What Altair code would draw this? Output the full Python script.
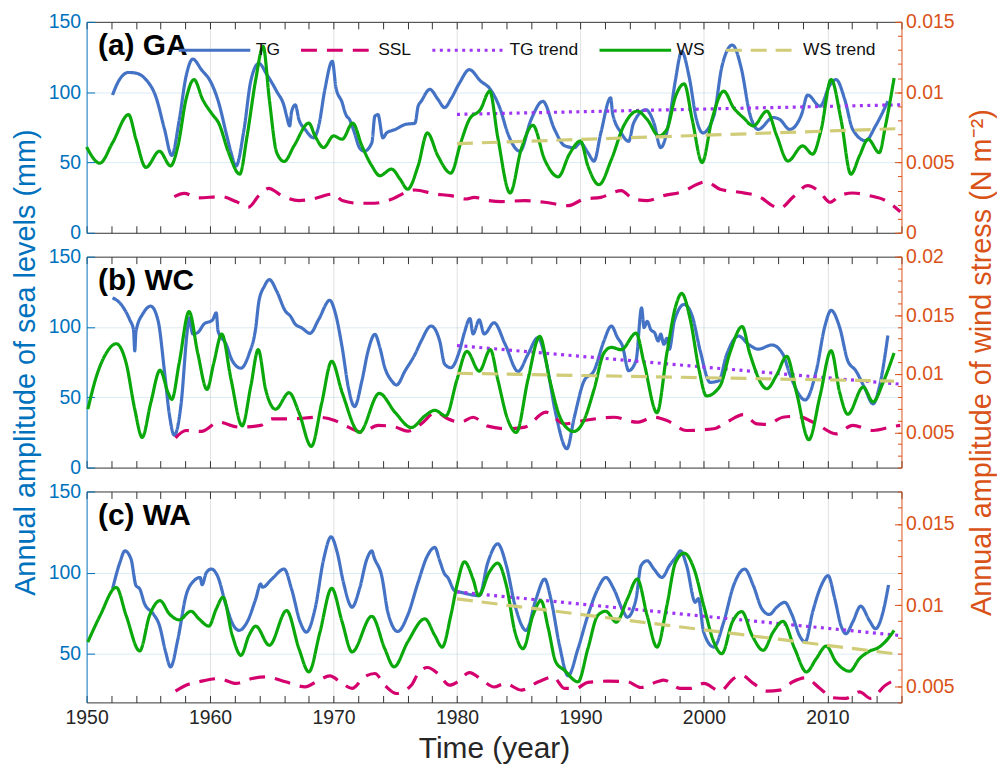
import altair as alt
import pandas as pd

FONT = "Liberation Sans"
SERIES = ["TG", "SSL", "TG trend", "WS", "WS trend"]
COLORS = ["#4472C4", "#D4006E", "#9F35F2", "#0AA80A", "#D0CC78"]
DASHES = [[1, 0], [16, 10], [3, 4.5], [1, 0], [16, 9]]
LEFT_COLOR = "#0072BD"
RIGHT_COLOR = "#D95319"
BOX_COLOR = "#333333"
TEXT_COLOR = "#262626"

YEAR_DOMAIN = [1950, 2016]
X_TICKS = list(range(1950, 2017, 2))
DECADES = [1960, 1970, 1980, 1990, 2000, 2010]

# ---------------- panel (a) GA ----------------
A_TG = [(1952.1, 98), (1952.6, 108), (1953.4, 114), (1954.0, 113.5), (1954.8, 109), (1955.6, 97),
        (1956.3, 74), (1956.9, 55), (1957.5, 80), (1958.05, 111), (1958.6, 123.5), (1959.3, 116),
        (1960.1, 106.5), (1960.7, 92.5), (1961.3, 71), (1961.7, 57), (1962.1, 47.5), (1962.75, 73.5),
        (1963.3, 108), (1963.95, 120.5), (1964.6, 112.5), (1965.4, 100.5), (1966.0, 90), (1966.2, 83),
        (1966.45, 76), (1966.6, 86), (1966.9, 91), (1967.2, 80.5), (1967.7, 73.5), (1968.4, 67.5),
        (1968.8, 76), (1969.3, 102), (1969.9, 122), (1970.2, 103), (1970.7, 92.5), (1970.9, 86.5),
        (1971.0, 84), (1971.3, 80.5), (1971.7, 71), (1972.1, 60.5), (1972.5, 58), (1973.1, 64),
        (1973.35, 83), (1973.6, 84), (1974.0, 67.5), (1974.3, 71), (1975.0, 73.5), (1975.8, 77),
        (1976.6, 78), (1976.85, 90), (1977.1, 93.5), (1977.8, 102), (1978.45, 95), (1979.0, 89),
        (1979.5, 95), (1980.2, 106.5), (1981.0, 116), (1981.9, 108), (1982.7, 102), (1983.5, 88),
        (1984.1, 71), (1985.1, 58), (1986.0, 80.5), (1986.95, 93.5), (1987.9, 73.5), (1988.7, 62),
        (1989.5, 60.5), (1990.0, 64), (1990.6, 57), (1991.1, 51), (1991.65, 71), (1992.45, 96),
        (1992.6, 85), (1993.3, 71), (1993.9, 65), (1994.3, 78), (1995.3, 87.5), (1995.95, 78),
        (1996.5, 60.5), (1997.2, 80.5), (1997.7, 109), (1998.2, 129), (1998.8, 111), (1999.4, 80.5),
        (1999.9, 71), (2000.8, 83), (2001.45, 118), (2002.3, 133.5), (2003.05, 116), (2003.7, 85),
        (2004.4, 73.5), (2005.6, 82), (2006.15, 80.5), (2006.95, 73.5), (2007.9, 84), (2008.4, 98),
        (2009.4, 90), (2010.2, 105), (2010.7, 109), (2011.4, 95), (2012.05, 73.5), (2013.1, 65.5),
        (2013.9, 76), (2014.9, 93.5)]
A_SSL = [(1957.1, 25.7), (1957.9, 28), (1959.1, 24.8), (1960.9, 25.7), (1962.1, 22.2), (1963.1, 18.2),
         (1963.95, 26.4), (1964.75, 31.6), (1965.8, 26.4), (1967.2, 22.9), (1968.25, 24), (1970.0, 27.6),
         (1970.7, 22.9), (1972.0, 21), (1973.35, 21), (1974.4, 22.9), (1976.6, 30.4), (1978.2, 27.6),
         (1979.5, 26.4), (1980.7, 24), (1981.4, 25.2), (1982.6, 22.9), (1983.6, 22.2), (1985.5, 22.9),
         (1987.1, 21.7), (1989.0, 19.3), (1990.3, 24), (1991.65, 25.2), (1993.3, 30), (1994.3, 24),
         (1995.4, 22.9), (1996.75, 26.4), (1998.1, 28.8), (2000.2, 36.3), (2001.3, 31), (2002.9, 28.8),
         (2004.3, 26.4), (2006.15, 17.4), (2007.2, 25.2), (2008.4, 33.5), (2009.4, 28.8), (2010.2, 21.7),
         (2011.0, 26.4), (2012.05, 28.3), (2013.4, 26.4), (2014.7, 22.9), (2015.9, 15)]
A_TG_TREND = [(1980, 84.2), (2015.9, 91)]
A_WS = [(1950.0, 0.0061), (1951.07, 0.00495), (1952.1, 0.0064), (1953.4, 0.0084), (1954.0, 0.00665),
        (1954.8, 0.00465), (1955.9, 0.0058), (1956.8, 0.00476), (1957.4, 0.00618), (1958.05, 0.00948),
        (1958.7, 0.0109), (1959.4, 0.00948), (1960.2, 0.0084), (1960.7, 0.0078), (1961.5, 0.0057),
        (1962.4, 0.00417), (1963.0, 0.00689), (1963.7, 0.0109), (1964.3, 0.01325), (1964.8, 0.00948),
        (1965.4, 0.0057), (1966.0, 0.00507), (1966.8, 0.00618), (1968.0, 0.0078), (1968.5, 0.00689),
        (1969.2, 0.00606), (1970.0, 0.00689), (1970.7, 0.00665), (1971.55, 0.0078), (1972.3, 0.00618),
        (1973.1, 0.00476), (1973.75, 0.00406), (1974.7, 0.00453), (1975.4, 0.0038), (1976.0, 0.0031),
        (1976.85, 0.00476), (1977.6, 0.0071), (1978.45, 0.00547), (1979.5, 0.00424), (1980.3, 0.0064),
        (1981.0, 0.00806), (1981.9, 0.00877), (1982.65, 0.01007), (1983.3, 0.0068), (1984.3, 0.00283),
        (1985.2, 0.00594), (1986.15, 0.00764), (1987.1, 0.0052), (1988.2, 0.00398), (1989.1, 0.00559),
        (1990.0, 0.00653), (1990.6, 0.00476), (1991.5, 0.00342), (1992.5, 0.0052), (1993.5, 0.0076),
        (1994.6, 0.00865), (1995.4, 0.00806), (1996.35, 0.00689), (1997.0, 0.00736), (1997.7, 0.0097),
        (1998.4, 0.01059), (1999.05, 0.00806), (1999.85, 0.005), (2000.65, 0.00806), (2001.6, 0.01007),
        (2002.4, 0.00889), (2003.2, 0.00818), (2004.0, 0.0076), (2005.1, 0.00865), (2005.9, 0.00689),
        (2006.8, 0.0051), (2008.0, 0.00618), (2008.8, 0.00559), (2009.5, 0.00736), (2010.3, 0.0109),
        (2011.1, 0.00806), (2011.9, 0.00417), (2012.6, 0.00547), (2013.3, 0.00665), (2014.2, 0.0057),
        (2014.7, 0.0076), (2015.4, 0.011)]
A_WS_TREND = [(1980, 0.00634), (2015.5, 0.0074)]

# ---------------- panel (b) WC ----------------
B_TG = [(1952.1, 120.7), (1952.7, 117), (1953.5, 105), (1953.8, 98), (1953.9, 83), (1954.0, 97),
        (1954.6, 110), (1955.2, 114.8), (1955.8, 104), (1956.3, 69), (1956.7, 38), (1957.1, 23),
        (1957.65, 45), (1958.15, 97), (1958.3, 106.5), (1958.6, 95), (1959.0, 96), (1959.5, 102),
        (1960.2, 105), (1960.5, 110), (1960.65, 97), (1961.3, 87.7), (1961.8, 76), (1962.5, 70.7),
        (1963.15, 80.6), (1963.7, 99.5), (1963.95, 118), (1964.4, 129), (1964.8, 133.7), (1965.4, 125.4),
        (1966.1, 111.3), (1966.5, 107.8), (1966.9, 102), (1967.4, 99.5), (1968.1, 95.5), (1968.8, 105.4),
        (1969.7, 119), (1970.1, 111.3), (1970.7, 85.4), (1971.2, 57), (1971.7, 43.4), (1972.3, 61.8),
        (1972.8, 83), (1973.35, 94.8), (1973.75, 85.4), (1974.15, 71.2), (1974.7, 61.8), (1975.1, 58.7),
        (1975.8, 68.9), (1976.6, 80.6), (1977.1, 90), (1977.9, 100.7), (1978.6, 90), (1979.0, 73.6),
        (1979.5, 71), (1980.2, 83), (1980.6, 96), (1981.05, 106), (1981.3, 95), (1981.8, 105),
        (1982.2, 95), (1983.0, 103), (1983.9, 87.7), (1984.95, 68.4), (1985.75, 80.6), (1986.55, 92.4),
        (1987.2, 76), (1988.0, 38.2), (1988.9, 13.4), (1989.5, 35.8), (1990.3, 61.8), (1991.1, 68.9),
        (1991.9, 90), (1992.5, 100.7), (1993.0, 92.4), (1993.4, 86.5), (1993.9, 68.9), (1994.5, 76),
        (1994.95, 113.6), (1995.15, 99.5), (1995.4, 104), (1995.7, 98), (1996.0, 96), (1996.3, 90),
        (1996.5, 95), (1996.75, 87.7), (1997.0, 92), (1997.2, 84.2), (1997.6, 104.2), (1998.4, 116),
        (1999.05, 107.8), (1999.7, 83), (2000.5, 60.6), (2001.2, 61.8), (2001.85, 80.6), (2002.8, 93.6),
        (2003.6, 87.7), (2004.4, 84.2), (2005.5, 87.2), (2006.4, 80.6), (2006.95, 66.5), (2008.2, 48.1),
        (2009.1, 68.9), (2009.8, 100.7), (2010.3, 111.8), (2011.0, 99.5), (2011.65, 76), (2012.3, 68.9),
        (2013.0, 57), (2013.7, 45.3), (2014.2, 57), (2014.9, 94)]
B_SSL = [(1957.2, 21.2), (1958.05, 26.4), (1959.3, 25.7), (1960.7, 32.3), (1962.35, 28.8), (1964.1, 30),
         (1965.0, 34.7), (1966.6, 34.7), (1968.8, 35.8), (1970.1, 33.5), (1971.2, 28.8), (1972.3, 25.2),
         (1973.6, 30), (1975.0, 28.8), (1976.0, 25.9), (1977.1, 31.1), (1978.3, 39.4), (1979.25, 34.7),
         (1980.3, 32.3), (1981.3, 35.8), (1982.5, 29.5), (1984.1, 27.6), (1985.5, 28.8), (1987.2, 39.4),
         (1988.7, 31.1), (1990.3, 33.5), (1992.7, 35.8), (1994.6, 32.3), (1995.95, 35.8), (1997.0, 33.5),
         (1998.6, 26.4), (2000.8, 27.6), (2001.85, 32.3), (2003.2, 37.7), (2004.3, 31.1), (2005.1, 30.7),
         (2006.4, 35.8), (2007.5, 36.5), (2009.1, 31.1), (2010.7, 24), (2012.05, 30), (2013.7, 26.4),
         (2015.3, 29.2), (2015.9, 30)]
B_TG_TREND = [(1980, 86.8), (2015.8, 59.4)]
B_WS = [(1950.1, 0.00698), (1950.8, 0.0098), (1951.6, 0.01178), (1952.4, 0.01257), (1953.2, 0.01093),
        (1953.9, 0.00698), (1954.5, 0.00458), (1955.2, 0.00754), (1955.95, 0.01031), (1956.6, 0.00839),
        (1956.9, 0.00782), (1957.5, 0.01093), (1958.3, 0.01531), (1959.0, 0.01178), (1959.75, 0.00867),
        (1960.3, 0.01093), (1960.95, 0.01339), (1961.7, 0.00952), (1962.6, 0.00556), (1963.3, 0.00895),
        (1963.9, 0.01206), (1964.5, 0.00867), (1965.3, 0.00698), (1966.4, 0.00839), (1967.2, 0.00669),
        (1968.2, 0.00381), (1969.05, 0.00754), (1969.85, 0.01107), (1970.7, 0.00839), (1972.1, 0.005),
        (1973.7, 0.00833), (1975.0, 0.00669), (1976.3, 0.00542), (1977.4, 0.00641), (1978.2, 0.00689),
        (1979.1, 0.00641), (1980.0, 0.00952), (1980.8, 0.01192), (1981.8, 0.01023), (1982.7, 0.01206),
        (1983.3, 0.00952), (1984.1, 0.00613), (1984.8, 0.005), (1985.75, 0.00952), (1986.7, 0.01319),
        (1987.5, 0.00952), (1988.3, 0.00641), (1989.0, 0.00528), (1989.45, 0.00508), (1990.2, 0.00585),
        (1991.1, 0.00867), (1991.9, 0.01178), (1992.5, 0.01226), (1993.3, 0.01206), (1994.5, 0.01347),
        (1995.15, 0.01093), (1996.2, 0.00669), (1997.0, 0.01178), (1997.7, 0.01573), (1998.2, 0.01686),
        (1998.9, 0.0146), (1999.6, 0.01037), (2000.2, 0.00811), (2001.3, 0.00895), (2002.1, 0.01178),
        (2003.1, 0.01404), (2003.7, 0.01178), (2005.1, 0.00873), (2005.9, 0.00992), (2006.7, 0.0115),
        (2007.5, 0.00839), (2008.5, 0.00438), (2009.4, 0.00811), (2010.3, 0.01198), (2011.0, 0.00839),
        (2011.65, 0.00655), (2012.9, 0.00887), (2013.7, 0.0076), (2014.5, 0.00924), (2015.4, 0.01178)]
B_WS_TREND = [(1980, 0.01005), (2015.4, 0.00938)]

# ---------------- panel (c) WA ----------------
C_TG = [(1952.1, 89.9), (1952.7, 106.3), (1953.1, 113.4), (1953.6, 108.3), (1954.0, 92), (1954.3, 90),
        (1954.7, 80.7), (1955.4, 74.6), (1955.9, 67.4), (1956.4, 51.1), (1956.8, 41.9), (1957.4, 59.2),
        (1958.05, 85.8), (1958.7, 95), (1959.2, 97), (1959.35, 92.5), (1959.7, 100), (1960.1, 102.2),
        (1960.6, 98), (1961.3, 79.7), (1961.9, 67.4), (1962.35, 64.4), (1963.0, 69.5), (1963.7, 83.8),
        (1964.1, 93), (1964.25, 91), (1965.0, 96), (1966.0, 102.2), (1966.6, 89.9), (1967.3, 69.5),
        (1967.8, 63.3), (1968.5, 77.6), (1969.2, 108.3), (1969.8, 122), (1970.3, 112.4), (1970.8, 94),
        (1971.5, 78.7), (1972.1, 89.9), (1972.7, 108.3), (1973.1, 113.4), (1973.3, 109), (1973.9, 98),
        (1974.4, 75.6), (1975.2, 63.7), (1976.0, 73.6), (1976.85, 94), (1977.6, 110.3), (1978.2, 115.5),
        (1978.6, 107.3), (1979.0, 99.1), (1979.25, 97), (1979.8, 88.9), (1980.3, 87.9), (1981.8, 85.8),
        (1982.5, 106.3), (1983.3, 117.7), (1984.0, 104.2), (1984.7, 79.7), (1985.6, 64.4), (1986.4, 83.8),
        (1987.1, 96), (1987.6, 83.8), (1988.3, 55.2), (1989.0, 36.4), (1989.8, 53.1), (1990.6, 73.6),
        (1991.4, 89.9), (1992.05, 97), (1992.7, 89.9), (1993.5, 75.6), (1993.8, 72.5), (1994.5, 83.8),
        (1994.9, 104.2), (1995.4, 107.3), (1995.95, 102.2), (1996.6, 97), (1997.2, 104.2), (1997.7, 109.3),
        (1998.1, 113.4), (1998.6, 104.2), (1999.3, 81.7), (1999.55, 84), (1999.98, 63.3), (2000.8, 54.1),
        (2001.6, 69.5), (2002.4, 92), (2003.3, 102.2), (2004.0, 92), (2004.7, 77.6), (2005.3, 74.2),
        (2005.9, 78.7), (2006.55, 81.7), (2007.1, 74.6), (2007.8, 60.3), (2008.2, 57.2), (2008.8, 75.6),
        (2009.5, 92), (2010.05, 98.1), (2010.6, 83.8), (2011.1, 67.4), (2011.5, 62.3), (2012.05, 69.5),
        (2012.7, 79.3), (2013.4, 70.5), (2013.9, 65.4), (2014.5, 75.6), (2014.95, 92.4)]
C_SSL = [(1957.2, 27), (1958.05, 30.6), (1959.1, 32.7), (1960.7, 34.7), (1962.1, 31.7), (1963.4, 34.7),
         (1964.5, 35.7), (1966.1, 32.7), (1967.7, 29.6), (1968.8, 33.7), (1969.7, 36.3), (1970.7, 31.7),
         (1971.5, 28.6), (1972.5, 35.7), (1973.35, 37.8), (1974.15, 30.6), (1975.1, 25.5), (1976.3, 30.6),
         (1976.85, 37.8), (1977.6, 41.5), (1978.45, 37.8), (1979.4, 30.6), (1980.05, 32.7), (1981.0, 38.4),
         (1982.2, 32.7), (1983.0, 29.5), (1983.9, 31.7), (1985.2, 27.6), (1986.6, 32.7), (1987.8, 35.7),
         (1988.7, 28.6), (1989.6, 28.6), (1990.6, 32.3), (1992.2, 33.1), (1993.8, 32.7), (1994.9, 29.2),
         (1996.2, 32.7), (1996.75, 33.7), (1998.1, 28.6), (1998.9, 28.6), (2000.0, 31.7), (2001.3, 27),
         (2002.4, 34.7), (2003.06, 36.8), (2004.0, 31.7), (2005.1, 27), (2006.15, 27.6), (2007.2, 32.7),
         (2008.2, 35.1), (2009.4, 28.6), (2010.4, 22.9), (2011.5, 22.5), (2012.6, 26.5), (2013.5, 22.5),
         (2014.7, 30.6), (2015.9, 35.1)]
C_TG_TREND = [(1980, 88.1), (2015.8, 61.3)]
C_WS = [(1950.1, 0.00772), (1951.1, 0.00936), (1952.4, 0.01109), (1953.2, 0.00936), (1954.3, 0.00717),
        (1955.1, 0.00936), (1955.95, 0.01027), (1956.7, 0.00946), (1957.5, 0.00909), (1958.45, 0.00962),
        (1959.1, 0.00915), (1959.9, 0.0087), (1960.5, 0.00976), (1961.05, 0.01048), (1961.8, 0.00813),
        (1962.5, 0.0069), (1963.15, 0.00813), (1963.7, 0.0087), (1964.8, 0.00752), (1966.2, 0.00966),
        (1967.2, 0.00731), (1968.0, 0.00588), (1968.9, 0.00833), (1969.85, 0.01103), (1970.7, 0.00895),
        (1971.5, 0.00711), (1973.1, 0.00931), (1974.15, 0.00731), (1974.9, 0.00619), (1976.0, 0.00772),
        (1977.4, 0.00915), (1978.2, 0.00813), (1978.8, 0.00741), (1979.5, 0.00936), (1980.05, 0.0114),
        (1980.6, 0.01267), (1981.3, 0.0116), (1981.75, 0.01058), (1982.6, 0.01201), (1983.3, 0.01258),
        (1984.0, 0.0112), (1984.7, 0.00833), (1985.35, 0.00731), (1986.15, 0.00936), (1986.8, 0.01027),
        (1987.4, 0.00854), (1988.0, 0.00649), (1988.7, 0.00598), (1989.8, 0.00527), (1990.6, 0.00731),
        (1991.4, 0.00936), (1992.05, 0.00962), (1992.9, 0.00895), (1993.8, 0.01038), (1994.6, 0.0116),
        (1995.4, 0.00936), (1996.2, 0.00741), (1997.0, 0.00997), (1997.7, 0.01263), (1998.4, 0.0132),
        (1999.2, 0.01222), (1999.98, 0.00997), (2000.8, 0.00772), (2001.45, 0.007), (2002.3, 0.00895),
        (2003.06, 0.0096), (2003.9, 0.00813), (2004.8, 0.00721), (2005.6, 0.00833), (2006.4, 0.00899),
        (2007.35, 0.00731), (2008.3, 0.00588), (2009.1, 0.0067), (2009.9, 0.00747), (2010.7, 0.00649),
        (2011.8, 0.00592), (2012.6, 0.0067), (2013.4, 0.00715), (2014.2, 0.00741), (2014.9, 0.00792),
        (2015.4, 0.00844)]
C_WS_TREND = [(1980, 0.01038), (2015.4, 0.0070)]

# axis domains / ticks for each panel
A_LEFT, A_LEFT_TICKS = [0, 150], [0, 50, 100, 150]
A_RIGHT, A_RIGHT_TICKS = [0, 0.015], [0, 0.005, 0.01, 0.015]
A_RIGHT_MINOR = [i / 1000 for i in range(0, 16)]
B_LEFT, B_LEFT_TICKS = [0, 150], [0, 50, 100, 150]
B_RIGHT, B_RIGHT_TICKS = [0.002, 0.02], [0.005, 0.01, 0.015, 0.02]
B_RIGHT_MINOR = [i / 1000 for i in range(2, 21)]
C_LEFT, C_LEFT_TICKS = [20, 150], [50, 100, 150]
C_RIGHT, C_RIGHT_TICKS = [0.004, 0.017], [0.005, 0.01, 0.015]
C_RIGHT_MINOR = [i / 1000 for i in range(4, 18)]


def frame(pairs, name):
    return pd.DataFrame({"year": [p[0] for p in pairs],
                         "value": [p[1] for p in pairs],
                         "series": name})


def panel(label, tg, ssl, tgtr, ws, wstr, ldom, lticks, rdom, rticks, rminor,
          show_legend, show_xlabels, show_ytitles):
    left = pd.concat([frame(tg, "TG"), frame(ssl, "SSL"), frame(tgtr, "TG trend")])
    right = pd.concat([frame(ws, "WS"), frame(wstr, "WS trend")])
    xs = alt.Scale(domain=YEAR_DOMAIN, nice=False, zero=False)
    ls = alt.Scale(domain=ldom, nice=False, zero=False)
    rs = alt.Scale(domain=rdom, nice=False, zero=False)

    if show_legend:
        leg = alt.Legend(orient="none", legendX=91, legendY=-9, direction="horizontal",
                         title=None, symbolType="stroke", symbolSize=5184,
                         symbolStrokeWidth=3, labelFontSize=17.5, labelColor="#111111",
                         labelOffset=4, columnPadding=14, labelLimit=300, padding=0)
    else:
        leg = None
    color = alt.Color("series:N", scale=alt.Scale(domain=SERIES, range=COLORS), legend=leg)
    dash = alt.StrokeDash("series:N", scale=alt.Scale(domain=SERIES, range=DASHES), legend=leg)

    grid_x = alt.Axis(orient="bottom", domain=True, domainColor=BOX_COLOR, ticks=False,
                      labels=False, title=None, grid=True, values=DECADES,
                      gridColor=BOX_COLOR, gridOpacity=0.15)
    grid_y = alt.Axis(orient="left", domain=True, domainColor=LEFT_COLOR, ticks=False,
                      labels=False, title=None, grid=True, values=[50, 100],
                      gridColor=LEFT_COLOR, gridOpacity=0.15)
    lay_a = alt.Chart(left).mark_line(interpolate="monotone", strokeWidth=3.2).encode(
        x=alt.X("year:Q", scale=xs, axis=grid_x),
        y=alt.Y("value:Q", scale=ls, axis=grid_y),
        color=color, strokeDash=dash)

    top_x = alt.Axis(orient="top", domain=True, domainColor=BOX_COLOR, ticks=False,
                     labels=False, grid=False, title=label, titleX=11, titleY=33,
                     titleAlign="left", titleBaseline="alphabetic", titleAngle=0,
                     titleFontSize=30, titleFontWeight="bold", titleColor="#000000")
    right_dom = alt.Axis(orient="right", domain=True, domainColor=RIGHT_COLOR, ticks=False,
                         labels=False, grid=False, title=None)
    lay_b = alt.Chart(right).mark_line(interpolate="monotone", strokeWidth=3.2).encode(
        x=alt.X("year:Q", scale=xs, axis=top_x),
        y=alt.Y("value:Q", scale=rs, axis=right_dom),
        color=color, strokeDash=dash)

    bx_kwargs = dict(orient="bottom", offset=-7, tickSize=7, values=X_TICKS, domain=False,
                     grid=False, tickColor=BOX_COLOR, labels=show_xlabels, format="d",
                     labelExpr="datum.value % 10 === 0 ? datum.label : ''",
                     labelFlush=False, labelOverlap=False, labelPadding=6,
                     labelColor=TEXT_COLOR, labelFontSize=19.5)
    if show_xlabels:
        bx_kwargs.update(title="Time (year)", titleFontSize=30, titleColor=TEXT_COLOR,
                         titlePadding=7, titleFontWeight="normal")
    else:
        bx_kwargs.update(title=None)
    ly_kwargs = dict(orient="left", offset=-8, tickSize=8, values=lticks, domain=False,
                     grid=False, tickColor=LEFT_COLOR, labelColor=LEFT_COLOR,
                     labelPadding=6, labelFontSize=19.5)
    if show_ytitles:
        ly_kwargs.update(title="Annual amplitude of sea levels (mm)", titleFontSize=29,
                         titleColor=LEFT_COLOR, titlePadding=8, titleFontWeight="normal")
    else:
        ly_kwargs.update(title=None)
    lay_c = alt.Chart(left).mark_point(opacity=0).encode(
        x=alt.X("year:Q", scale=xs, axis=alt.Axis(**bx_kwargs)),
        y=alt.Y("value:Q", scale=ls, axis=alt.Axis(**ly_kwargs)))

    ry_kwargs = dict(orient="right", offset=-7, tickSize=7, values=rticks, domain=False,
                     grid=False, tickColor=RIGHT_COLOR, labelColor=RIGHT_COLOR,
                     labelPadding=4, labelFontSize=19.5, format=".3~g")
    if show_ytitles:
        ry_kwargs.update(title="Annual amplitude of wind stress (N m\u207b\u00b2)",
                         titleFontSize=29, titleColor=RIGHT_COLOR, titlePadding=14,
                         titleAngle=270, titleBaseline="top", titleFontWeight="normal")
    else:
        ry_kwargs.update(title=None)
    lay_d = alt.Chart(right).mark_point(opacity=0).encode(
        x=alt.X("year:Q", scale=xs, axis=alt.Axis(orient="top", offset=-7, tickSize=7,
                                                   values=X_TICKS, domain=False, labels=False,
                                                   grid=False, tickColor=BOX_COLOR, title=None)),
        y=alt.Y("value:Q", scale=rs, axis=alt.Axis(**ry_kwargs)))

    lay_e = alt.Chart(right).mark_point(opacity=0).encode(
        x=alt.X("year:Q", scale=xs, axis=None),
        y=alt.Y("value:Q", scale=rs, axis=alt.Axis(orient="right", offset=-4, tickSize=4,
                                                    values=rminor, domain=False, labels=False,
                                                    grid=False, tickColor=RIGHT_COLOR, title=None)))

    return alt.layer(lay_a, lay_b, lay_c, lay_d, lay_e).resolve_scale(
        y="independent").resolve_axis(x="independent", y="independent").properties(
        width=819, height=212)


pa = panel("(a) GA", A_TG, A_SSL, A_TG_TREND, A_WS, A_WS_TREND, A_LEFT, A_LEFT_TICKS,
           A_RIGHT, A_RIGHT_TICKS, A_RIGHT_MINOR, True, False, False)
pb = panel("(b) WC", B_TG, B_SSL, B_TG_TREND, B_WS, B_WS_TREND, B_LEFT, B_LEFT_TICKS,
           B_RIGHT, B_RIGHT_TICKS, B_RIGHT_MINOR, False, False, True)
pc = panel("(c) WA", C_TG, C_SSL, C_TG_TREND, C_WS, C_WS_TREND, C_LEFT, C_LEFT_TICKS,
           C_RIGHT, C_RIGHT_TICKS, C_RIGHT_MINOR, False, True, False)

chart = alt.vconcat(pa, pb, pc, spacing=24, bounds="flush").resolve_scale(
    color="independent", strokeDash="independent").properties(
    padding={"left": 3, "top": 2, "right": 0, "bottom": 0}).configure(
    font=FONT).configure_view(stroke=None).configure_axis(
    labelFont=FONT, titleFont=FONT).configure_legend(labelFont=FONT)

chart.save("out.html", embed_options={"renderer": "svg", "actions": False})
